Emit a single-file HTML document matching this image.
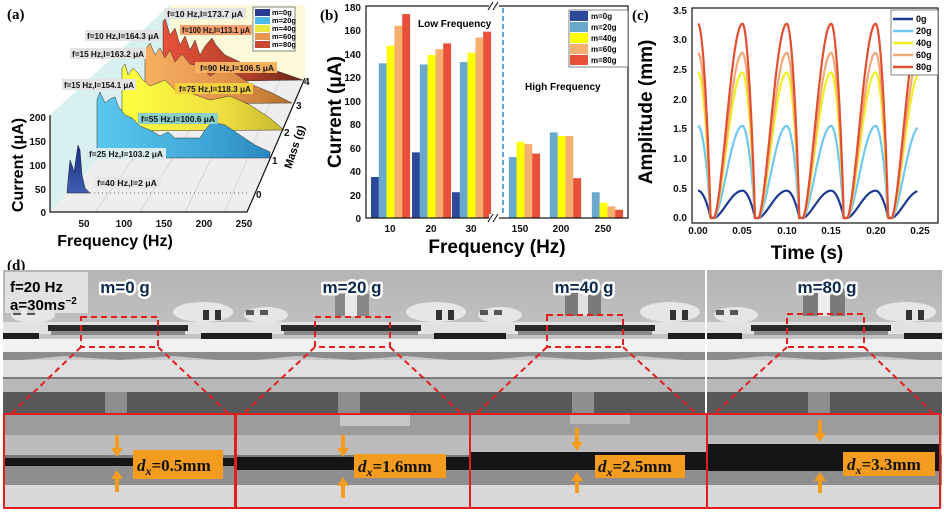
<!DOCTYPE html>
<html><head><meta charset="utf-8"><style>
html,body{margin:0;padding:0;background:#fff;}
svg{display:block;font-family:"Liberation Sans",sans-serif;}
.b{font-weight:bold;}
</style></head><body>
<svg width="944" height="519" viewBox="0 0 944 519" xmlns="http://www.w3.org/2000/svg">
<defs>
<linearGradient id="gR" x1="0" x2="1"><stop offset="0" stop-color="#e8503a"/><stop offset="0.6" stop-color="#b0402a"/><stop offset="1" stop-color="#6a2418"/></linearGradient>
<linearGradient id="gO" x1="0" x2="1"><stop offset="0" stop-color="#f7b060"/><stop offset="0.6" stop-color="#e0904a"/><stop offset="1" stop-color="#b0702a"/></linearGradient>
<linearGradient id="gY" x1="0" x2="1"><stop offset="0" stop-color="#ffff40"/><stop offset="0.6" stop-color="#f0e040"/><stop offset="1" stop-color="#c8b830"/></linearGradient>
<linearGradient id="gB" x1="0" x2="1"><stop offset="0" stop-color="#5cc8f0"/><stop offset="0.6" stop-color="#40a8d8"/><stop offset="1" stop-color="#2a88c0"/></linearGradient>
<linearGradient id="gD" x1="0" x2="0" y1="0" y2="1"><stop offset="0" stop-color="#1a2a80"/><stop offset="1" stop-color="#4060b0"/></linearGradient>
<linearGradient id="sky" x1="0" x2="0" y1="0" y2="1"><stop offset="0" stop-color="#b4b4b4"/><stop offset="1" stop-color="#d4d4d4"/></linearGradient>
<g id="photo">
  <rect x="0" y="0" width="236" height="144" fill="url(#sky)"/>
  <ellipse cx="30" cy="45" rx="22" ry="8" fill="#e6e6e6"/>
  <ellipse cx="200" cy="42" rx="30" ry="10" fill="#e6e6e6"/>
  <rect x="10" y="40" width="8" height="5" fill="#555"/><rect x="24" y="40" width="8" height="5" fill="#555"/>
  <rect x="200" y="40" width="6" height="10" fill="#333"/><rect x="212" y="40" width="6" height="10" fill="#333"/>
  <rect x="0" y="52" width="236" height="12" fill="#e2e2e2"/>
  <rect x="45" y="55" width="140" height="6" fill="#2a2a2a"/>
  <rect x="48" y="61" width="134" height="4" fill="#8a8a8a"/>
  <rect x="0" y="63" width="36" height="6" fill="#1e1e1e"/><rect x="198" y="63" width="38" height="6" fill="#1e1e1e"/>
  <rect x="0" y="69" width="236" height="13" fill="#f2f2f2"/>
  <polygon points="0,82 236,82 236,92 170,86 117,90 60,86 0,92" fill="#8c8c8c"/>
  <rect x="0" y="90" width="236" height="18" fill="#e0e0e0"/>
  <rect x="0" y="107" width="236" height="2" fill="#7a7a7a"/>
  <rect x="0" y="109" width="236" height="13" fill="#b8b8b8"/>
  <rect x="0" y="122" width="236" height="22" fill="#585858"/>
  <rect x="102" y="122" width="22" height="22" fill="#8e8e8e"/>
  <rect x="0" y="144" width="236" height="21" fill="#9c9c9c"/>
  <rect x="0" y="165" width="236" height="20" fill="#bcbcbc"/>
  <rect x="0" y="185" width="236" height="8" fill="#7a7a7a"/>
  <rect x="0" y="193" width="236" height="22" fill="#8e8e8e"/>
  <rect x="0" y="215" width="236" height="23" fill="#d8d8d8"/>
</g>
</defs>

<!-- ============ (a) ============ -->
<polygon points="50,115 170,5 170,80 50,212" fill="#d8f0f0"/>
<polygon points="170,5 305,5 305,80 170,80" fill="#fcfad8"/>
<polygon points="50,212 247,212 305,80 170,80" fill="#eeeeee"/>
<g stroke="#c8c8c8" stroke-width="0.6">
<line x1="95" y1="212" x2="190" y2="80"/><line x1="140" y1="212" x2="220" y2="80"/><line x1="185" y1="212" x2="250" y2="80"/><line x1="225" y1="212" x2="280" y2="80"/>
</g>
<path d="M163,82 L163,22 L165,18 L170,35 L175,28 L180,45 L185,36 L190,50 L195,40 L200,55 L205,46 L212,38 L216,45 L225,55 L240,62 L260,68 L280,72 L303,80 Z" fill="url(#gR)" stroke="#333" stroke-width="0.5"/>
<path d="M145,104 L145,50 L150,43 L155,55 L160,48 L165,58 L170,50 L175,62 L182,54 L190,64 L200,66 L210,76 L220,70 L235,73 L250,84 L270,92 L292,103 Z" fill="url(#gO)" stroke="#333" stroke-width="0.5"/>
<path d="M122,131 L122,68 L125,64 L128,75 L133,68 L138,73 L143,80 L150,86 L160,82 L165,80 L175,90 L190,93 L210,100 L230,96 L250,105 L270,118 L284,130 Z" fill="url(#gY)" stroke="#333" stroke-width="0.5"/>
<path d="M97,158 L97,100 L100,92 L105,103 L110,99 L115,97 L118,106 L125,115 L132,118 L140,126 L150,130 L160,136 L168,132 L175,138 L200,138 L205,130 L212,122 L225,125 L240,135 L255,145 L270,152 L270,158 Z" fill="url(#gB)" stroke="#333" stroke-width="0.5"/>
<path d="M67,193 L68,180 L70,160 L72,165 L74,172 L78,145 L80,150 L82,175 L85,188 L90,193 Z" fill="url(#gD)" stroke="#223" stroke-width="0.5"/>
<line x1="90" y1="193" x2="250" y2="193" stroke="#333" stroke-width="0.8" stroke-dasharray="1,3"/>
<polyline points="50,115 50,212 247,212 305,78" fill="none" stroke="#111" stroke-width="1.2"/>
<g font-size="10" class="b" fill="#111">
<text x="46" y="121" text-anchor="end">200</text><text x="46" y="145" text-anchor="end">150</text><text x="46" y="169" text-anchor="end">100</text><text x="46" y="193" text-anchor="end">50</text><text x="46" y="216" text-anchor="end">0</text>
<text x="84" y="227" text-anchor="middle">50</text><text x="124" y="227" text-anchor="middle">100</text><text x="164" y="227" text-anchor="middle">150</text><text x="204" y="227" text-anchor="middle">200</text><text x="244" y="227" text-anchor="middle">250</text>
<text x="256" y="198">0</text><text x="272" y="164">1</text><text x="284" y="136">2</text><text x="296" y="109">3</text><text x="304" y="85">4</text>
</g>
<text transform="translate(298,148) rotate(-72)" font-size="11" class="b" text-anchor="middle">Mass (g)</text>
<text transform="translate(23,165) rotate(-90)" font-size="16" class="b" text-anchor="middle">Current (μA)</text>
<text x="115" y="246" font-size="16" class="b" text-anchor="middle">Frequency (Hz)</text>
<text x="7" y="19" font-family="Liberation Serif" font-size="15" class="b">(a)</text>
<g font-size="8" class="b" fill="#111">
<rect x="164" y="8" width="82" height="11" fill="#e2e2e2"/><text x="167" y="17" textLength="76" lengthAdjust="spacingAndGlyphs">f=10 Hz,I=173.7 μA</text>
<rect x="180" y="25" width="72" height="10" fill="#f4a070"/><text x="182" y="33" textLength="68" lengthAdjust="spacingAndGlyphs">f=100 Hz,I=113.1 μA</text>
<rect x="85" y="30" width="76" height="11" fill="#e2e2e2"/><text x="87" y="39" textLength="72" lengthAdjust="spacingAndGlyphs">f=10 Hz,I=164.3 μA</text>
<rect x="70" y="48" width="76" height="11" fill="#e2e2e2"/><text x="72" y="57" textLength="72" lengthAdjust="spacingAndGlyphs">f=15 Hz,I=163.2 μA</text>
<rect x="195" y="62" width="82" height="11" fill="#f5b060"/><text x="200" y="71" textLength="74" lengthAdjust="spacingAndGlyphs">f=90 Hz,I=106.5 μA</text>
<rect x="62" y="79" width="74" height="11" fill="#e2e2e2"/><text x="64" y="88" textLength="70" lengthAdjust="spacingAndGlyphs">f=15 Hz,I=154.1 μA</text>
<rect x="175" y="83" width="78" height="11" fill="#f4d040"/><text x="179" y="92" textLength="72" lengthAdjust="spacingAndGlyphs">f=75 Hz,I=118.3 μA</text>
<rect x="138" y="113" width="80" height="11" fill="#8cd0c8"/><text x="141" y="122" textLength="74" lengthAdjust="spacingAndGlyphs">f=55 Hz,I=100.6 μA</text>
<rect x="86" y="148" width="80" height="11" fill="#d8ecf0"/><text x="89" y="157" textLength="74" lengthAdjust="spacingAndGlyphs">f=25 Hz,I=103.2 μA</text>
<rect x="94" y="177" width="67" height="11" fill="#e6e6e6"/><text x="97" y="186" textLength="60" lengthAdjust="spacingAndGlyphs">f=40 Hz,I=2 μA</text>
</g>
<g font-size="7.5" class="b">
<rect x="253" y="7" width="42" height="44" fill="#fff" stroke="#333" stroke-width="0.6"/>
<rect x="255" y="9" width="15" height="7" fill="#2a3a90"/><text x="272" y="15">m=0g</text>
<rect x="255" y="17" width="15" height="7" fill="#50b8e8"/><text x="272" y="23">m=20g</text>
<rect x="255" y="25" width="15" height="7" fill="#e8e840"/><text x="272" y="31">m=40g</text>
<rect x="255" y="33" width="15" height="7" fill="#e89850"/><text x="272" y="39">m=60g</text>
<rect x="255" y="41" width="15" height="7" fill="#c84830"/><text x="272" y="47">m=80g</text>
</g>

<!-- ============ (b) ============ -->
<g id="bars"></g>
<rect x="366" y="6" width="262" height="212" fill="none" stroke="#111" stroke-width="1.2"/>
<line x1="503" y1="8" x2="503" y2="216" stroke="#2a8ad0" stroke-width="1.5" stroke-dasharray="5,3"/>
<rect x="489" y="2" width="10" height="8" fill="#fff"/><rect x="489" y="214" width="10" height="8" fill="#fff"/>
<g stroke="#111" stroke-width="1"><line x1="488" y1="10" x2="493" y2="2"/><line x1="493" y1="10" x2="498" y2="2"/><line x1="488" y1="222" x2="493" y2="214"/><line x1="493" y1="222" x2="498" y2="214"/></g>
<g font-size="10" class="b" fill="#111" text-anchor="end">
<text x="361" y="11">180</text><text x="361" y="34">160</text><text x="361" y="58">140</text><text x="361" y="81">120</text><text x="361" y="105">100</text><text x="361" y="128">80</text><text x="361" y="152">60</text><text x="361" y="175">40</text><text x="361" y="199">20</text><text x="361" y="222">0</text>
</g>
<g font-size="10" class="b" fill="#111" text-anchor="middle">
<text x="390" y="232">10</text><text x="431" y="232">20</text><text x="471" y="232">30</text><text x="520" y="232">150</text><text x="561" y="232">200</text><text x="603" y="232">250</text>
</g>
<text x="497" y="253" font-size="19" class="b" text-anchor="middle">Frequency (Hz)</text>
<text transform="translate(341,112) rotate(-90)" font-size="19" class="b" text-anchor="middle">Current (μA)</text>
<text x="418" y="27" font-size="10" class="b">Low Frequency</text>
<text x="525" y="90" font-size="10" class="b">High Frequency</text>
<text x="320" y="20" font-family="Liberation Serif" font-size="15" class="b">(b)</text>
<g font-size="8" class="b">
<rect x="569" y="10" width="59" height="57" fill="#fff" stroke="#333" stroke-width="0.6"/>
<rect x="570" y="11" width="18" height="10" fill="#2d4a9a"/><text x="591" y="19">m=0g</text>
<rect x="570" y="22" width="18" height="10" fill="#6aa8cc"/><text x="591" y="30">m=20g</text>
<rect x="570" y="33" width="18" height="10" fill="#ffff00"/><text x="591" y="41">m=40g</text>
<rect x="570" y="44" width="18" height="10" fill="#f5b070"/><text x="591" y="52">m=60g</text>
<rect x="570" y="55" width="18" height="10" fill="#e8503a"/><text x="591" y="63">m=80g</text>
</g>

<!-- ============ (c) ============ -->
<rect x="692" y="8" width="246" height="215" fill="none" stroke="#111" stroke-width="1.2"/>
<g id="curves" fill="none" stroke-width="2.2"></g>
<g font-size="10" class="b" fill="#111" text-anchor="end">
<text x="687" y="14">3.5</text><text x="687" y="43">3.0</text><text x="687" y="73">2.5</text><text x="687" y="103">2.0</text><text x="687" y="132">1.5</text><text x="687" y="162">1.0</text><text x="687" y="192">0.5</text><text x="687" y="221">0.0</text>
</g>
<g font-size="10" class="b" fill="#111" text-anchor="middle">
<text x="698" y="234">0.00</text><text x="742" y="234">0.05</text><text x="787" y="234">0.10</text><text x="831" y="234">0.15</text><text x="876" y="234">0.20</text><text x="920" y="234">0.25</text>
</g>
<text x="807" y="259" font-size="19" class="b" text-anchor="middle">Time (s)</text>
<text transform="translate(652,112) rotate(-90)" font-size="19" class="b" text-anchor="middle">Amplitude (mm)</text>
<text x="632" y="20" font-family="Liberation Serif" font-size="15" class="b">(c)</text>
<g font-size="9" class="b">
<rect x="891" y="10" width="47" height="65" fill="#fff" stroke="#333" stroke-width="0.6"/>
<line x1="893" y1="19" x2="913" y2="19" stroke="#1e3a90" stroke-width="2.5"/><text x="916" y="22">0g</text>
<line x1="893" y1="31" x2="913" y2="31" stroke="#70c8f0" stroke-width="2.5"/><text x="916" y="34">20g</text>
<line x1="893" y1="43" x2="913" y2="43" stroke="#f0f020" stroke-width="2.5"/><text x="916" y="46">40g</text>
<line x1="893" y1="55" x2="913" y2="55" stroke="#f4a878" stroke-width="2.5"/><text x="916" y="58">60g</text>
<line x1="893" y1="67" x2="913" y2="67" stroke="#e05030" stroke-width="2.5"/><text x="916" y="70">80g</text>
</g>

<!-- ============ (d) ============ -->
<text x="7" y="270" font-family="Liberation Serif" font-size="15" class="b">(d)</text>
<use href="#photo" x="3" y="270"/>
<use href="#photo" x="236" y="270"/>
<use href="#photo" x="470" y="270"/>
<use href="#photo" x="706" y="270"/>
<rect x="705" y="270" width="2" height="144" fill="#fff"/>
<!-- extra masses -->
<rect x="335" y="294" width="34" height="22" fill="#888"/><rect x="345" y="294" width="12" height="22" fill="#e8e8e8"/>
<rect x="565" y="290" width="36" height="26" fill="#7a7a7a"/><rect x="578" y="290" width="10" height="26" fill="#e0e0e0"/>
<rect x="803" y="288" width="42" height="28" fill="#7a7a7a"/><rect x="818" y="288" width="12" height="28" fill="#ececec"/>
<!-- gaps -->
<rect x="3" y="458" width="234" height="8" fill="#151515"/>
<rect x="236" y="457" width="234" height="13" fill="#151515"/>
<rect x="470" y="452" width="237" height="18" fill="#151515"/>
<rect x="707" y="444" width="233" height="27" fill="#151515"/>
<rect x="340" y="414" width="70" height="12" fill="#d8d8d8" opacity="0.7"/>
<rect x="570" y="414" width="60" height="10" fill="#c8c8c8" opacity="0.7"/>
<g fill="none" stroke="#e02020" stroke-width="2" stroke-dasharray="6,4">
<rect x="81" y="317" width="77" height="30"/><line x1="81" y1="347" x2="11" y2="414"/><line x1="158" y1="347" x2="229" y2="414"/>
<rect x="315" y="317" width="75" height="30"/><line x1="315" y1="347" x2="243" y2="414"/><line x1="390" y1="347" x2="462" y2="414"/>
<rect x="547" y="315" width="76" height="32"/><line x1="547" y1="347" x2="476" y2="414"/><line x1="623" y1="347" x2="697" y2="414"/>
<rect x="787" y="314" width="77" height="33"/><line x1="787" y1="347" x2="714" y2="414"/><line x1="864" y1="347" x2="934" y2="414"/>
</g>
<g fill="none" stroke="#e02020" stroke-width="2">
<rect x="4" y="414" width="231" height="94"/><rect x="236" y="414" width="234" height="94"/><rect x="470" y="414" width="237" height="94"/><rect x="707" y="414" width="233" height="94"/>
</g>
<rect x="5" y="272" width="83" height="41" fill="#e8e8e8" opacity="0.85"/>
<text x="10" y="292" font-size="15" class="b">f=20 Hz</text>
<text x="10" y="310" font-size="15" class="b">a=30m<tspan font-style="italic">s</tspan><tspan font-size="10" dy="-6">−2</tspan></text>
<g font-size="17" class="b" fill="#0d2a4a" stroke="#fff" stroke-width="5" paint-order="stroke" stroke-linejoin="round" text-anchor="middle">
<text x="125" y="293">m=0 g</text><text x="352" y="293">m=20 g</text><text x="584" y="293">m=40 g</text><text x="827" y="293">m=80 g</text>
</g>
<g fill="#f39c1f">
<rect x="133" y="450" width="90" height="29"/><rect x="354" y="454" width="92" height="24"/><rect x="595" y="455" width="90" height="23"/><rect x="843" y="452" width="92" height="24"/>
<path d="M115,435 h4 v13 h4 l-6,9 l-6,-9 h4 z"/><path d="M117,470 l6,9 h-4 v13 h-4 v-13 h-4 z"/>
<path d="M341,435 h4 v13 h4 l-6,9 l-6,-9 h4 z"/><path d="M343,477 l6,9 h-4 v12 h-4 v-12 h-4 z"/>
<path d="M575,428 h4 v14 h4 l-6,9 l-6,-9 h4 z"/><path d="M577,472 l6,9 h-4 v12 h-4 v-12 h-4 z"/>
<path d="M818,420 h4 v13 h4 l-6,9 l-6,-9 h4 z"/><path d="M820,472 l6,9 h-4 v12 h-4 v-12 h-4 z"/>
</g>
<g font-family="Liberation Serif" font-size="17" class="b" fill="#111">
<text x="137" y="471"><tspan font-style="italic">d</tspan><tspan font-style="italic" font-size="12" dy="4">x</tspan><tspan dy="-4">=0.5mm</tspan></text>
<text x="358" y="472"><tspan font-style="italic">d</tspan><tspan font-style="italic" font-size="12" dy="4">x</tspan><tspan dy="-4">=1.6mm</tspan></text>
<text x="598" y="472"><tspan font-style="italic">d</tspan><tspan font-style="italic" font-size="12" dy="4">x</tspan><tspan dy="-4">=2.5mm</tspan></text>
<text x="847" y="470"><tspan font-style="italic">d</tspan><tspan font-style="italic" font-size="12" dy="4">x</tspan><tspan dy="-4">=3.3mm</tspan></text>
</g>
</svg>
<script>
(function(){
var NS="http://www.w3.org/2000/svg";
var cols=["#2d4a9a","#6aa8cc","#ffff00","#f5b070","#e8503a"];
var groups=[371,412,452,501,542,584];
var vals=[[35,132,147,164,174],[56,131,139,144,149],[22,133,141,154,159],[0,52,65,63,55],[0,73,70,70,34],[0,22,13,10,7]];
var g=document.getElementById("bars");
for(var i=0;i<6;i++)for(var j=0;j<5;j++){var v=vals[i][j];if(!v)continue;
var r=document.createElementNS(NS,"rect");var h=v*1.172;
r.setAttribute("x",groups[i]+j*7.8);r.setAttribute("y",218-h);r.setAttribute("width",7.9);r.setAttribute("height",h);r.setAttribute("fill",cols[j]);g.appendChild(r);}
var amps=[0.46,1.55,2.45,2.78,3.27];var cc=["#1e3a90","#70c8f0","#f0f020","#f4a878","#e05030"];
var cg=document.getElementById("curves");
function f(t,A){var u=(t%0.05)/0.05;var gv;
 if(u<0.28){gv=Math.pow(Math.cos(Math.PI/2*u/0.28),0.8);}
 else if(u<0.36){gv=0;}
 else{var w=(u-0.36)/0.64;gv=Math.pow(Math.sin(Math.PI/2*w),1.6);}
 return A*gv;}
for(var k=0;k<5;k++){var d="";for(var n=0;n<=500;n++){var t=0.247*n/500;var y=218-f(t,amps[k])*59.4;var x=698+t/0.05*44.4;d+=(n?"L":"M")+x.toFixed(1)+","+y.toFixed(1);}
var p=document.createElementNS(NS,"path");p.setAttribute("d",d);p.setAttribute("stroke",cc[k]);cg.appendChild(p);}
})();
</script>
</body></html>
